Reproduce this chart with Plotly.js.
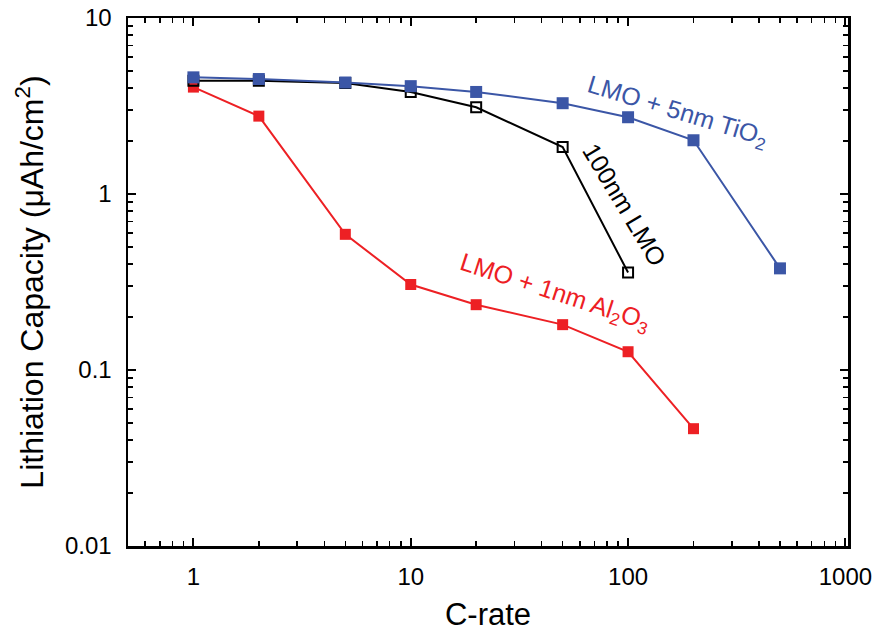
<!DOCTYPE html>
<html>
<head>
<meta charset="utf-8">
<script src="https://cdn.plot.ly/plotly-3.0.1.min.js"></script>
<style>html,body{margin:0;padding:0;background:#fff;}</style>
</head>
<body>
<div id="chart" style="width:880px;height:632px;"></div>
<script>
const cRate = [1, 2, 5, 10, 20, 50, 100, 200, 500];
const tio2 = [4.6, 4.5, 4.3, 4.1, 3.8, 3.28, 2.73, 2.02, 0.378];
const lmoX = [1, 2, 5, 10, 20, 50, 100];
const lmo = [4.4, 4.4, 4.27, 3.8, 3.11, 1.85, 0.358];
const al2o3X = [1, 2, 5, 10, 20, 50, 100, 200];
const al2o3 = [4.05, 2.77, 0.59, 0.306, 0.235, 0.181, 0.127, 0.0464];
const xTicks = [1, 10, 100, 1000];
const xTickText = ['1', '10', '100', '1000'];
const yTicks = [0.01, 0.1, 1, 10];
const yTickText = ['0.01', '0.1', '1', '10'];

const blue = '#3b56a6', red = '#ed2024';
const font = 'Liberation Sans, Arial, Helvetica, sans-serif';

const xMinor = [], yMinor = [];
[0.1, 1, 10, 100].forEach(d => { for (let k = 2; k <= 9; k++) { const v = k * d; if (v >= 0.5 && v <= 1000) xMinor.push(v); } });
[0.01, 0.1, 1].forEach(d => { for (let k = 2; k <= 9; k++) yMinor.push(k * d); });

const traces = [
  {x: al2o3X, y: al2o3, mode: 'lines+markers', line: {color: red, width: 2},
   marker: {symbol: 'square', size: 11, color: red}},
  {x: lmoX, y: lmo, mode: 'lines+markers', line: {color: '#000', width: 2},
   marker: {symbol: 'square-open', size: 10, color: '#000', line: {width: 2}}},
  {x: cRate, y: tio2, mode: 'lines+markers', line: {color: blue, width: 2},
   marker: {symbol: 'square', size: 12, color: blue}}
];

const layout = {
  width: 880, height: 632,
  margin: {l: 128, r: 32, t: 18, b: 86},
  showlegend: false,
  paper_bgcolor: '#fff', plot_bgcolor: '#fff',
  font: {family: font, color: '#000', size: 24},
  xaxis: {
    type: 'log', range: [Math.log10(0.5), 3.012],
    tickmode: 'array', tickvals: xTicks, ticktext: xTickText,
    ticks: 'inside', ticklen: 8, tickwidth: 2, tickcolor: '#000',
    minor: {tickmode: 'array', tickvals: xMinor, ticks: 'inside', ticklen: 5, tickwidth: 1.5, tickcolor: '#000'},
    showline: true, linecolor: '#000', linewidth: 2.5, mirror: 'ticks',
    showgrid: false, zeroline: false, ticklabelstandoff: 8,
    tickfont: {size: 24, family: font},
    title: {text: 'C-rate', font: {size: 31, family: font}, standoff: 22}
  },
  yaxis: {
    type: 'log', range: [-2, 1],
    tickmode: 'array', tickvals: yTicks, ticktext: yTickText,
    ticks: 'inside', ticklen: 8, tickwidth: 2, tickcolor: '#000',
    minor: {tickmode: 'array', tickvals: yMinor, ticks: 'inside', ticklen: 5, tickwidth: 1.5, tickcolor: '#000'},
    showline: true, linecolor: '#000', linewidth: 2.5, mirror: 'ticks',
    showgrid: false, zeroline: false, ticklabelstandoff: 9,
    tickfont: {size: 24, family: font},
    title: {text: 'Lithiation Capacity (μAh/cm<sup>2</sup>)', font: {size: 32, family: font}, standoff: 12}
  },
  annotations: [
    {x: Math.log10(168), y: Math.log10(2.92), xref: 'x', yref: 'y', text: 'LMO + 5nm TiO<sub>2</sub>',
     showarrow: false, textangle: 17, font: {size: 25, color: blue, family: font}},
    {x: Math.log10(97), y: Math.log10(0.87), xref: 'x', yref: 'y', text: '100nm LMO',
     showarrow: false, textangle: 59, font: {size: 25, color: '#000', family: font}},
    {x: Math.log10(46), y: Math.log10(0.275), xref: 'x', yref: 'y', text: 'LMO + 1nm Al<sub>2</sub>O<sub>3</sub>',
     showarrow: false, textangle: 18, font: {size: 25, color: red, family: font}}
  ]
};

Plotly.newPlot('chart', traces, layout, {displayModeBar: false, staticPlot: true});
</script>
</body>
</html>
